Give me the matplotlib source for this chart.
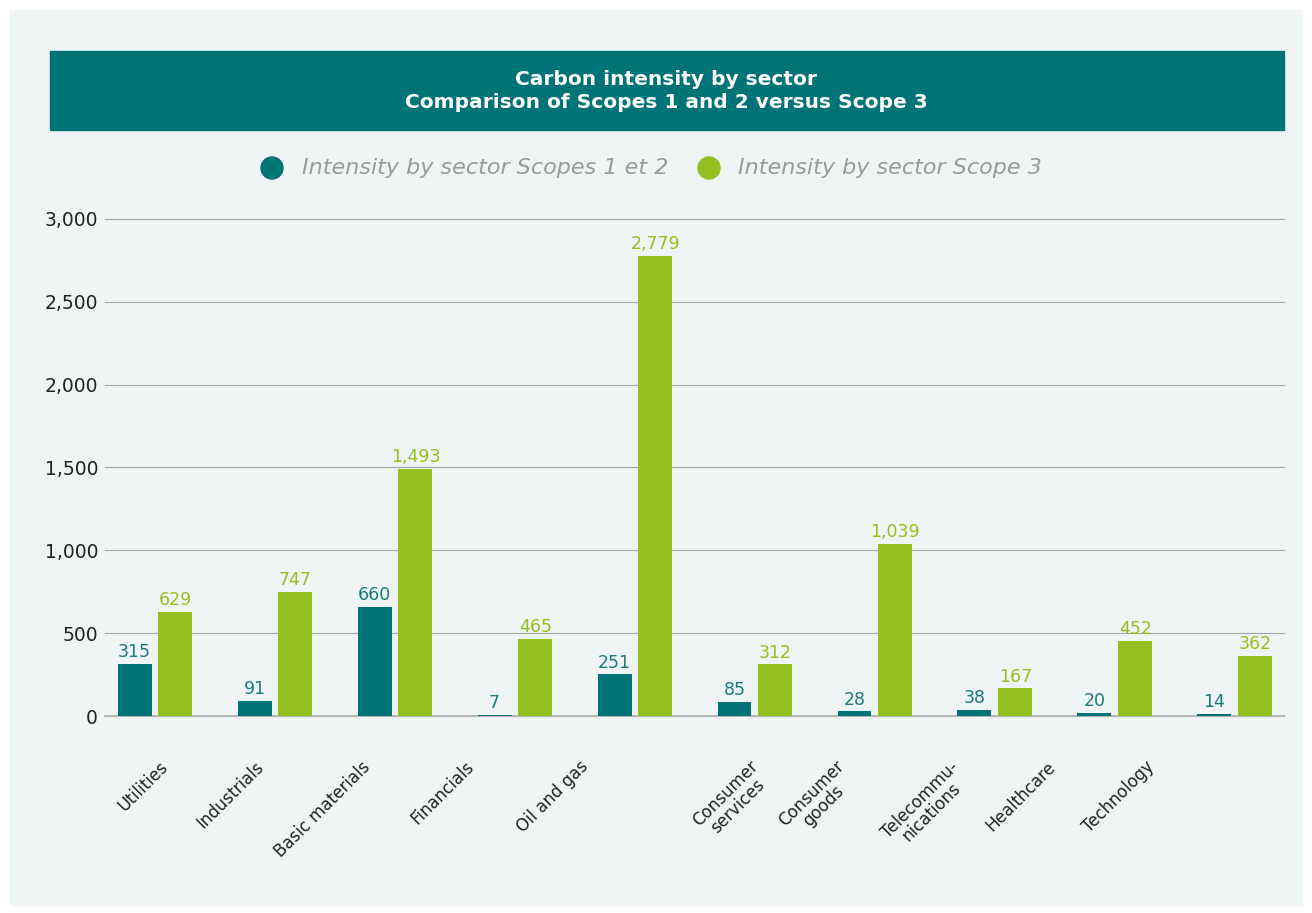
import numpy as np
import matplotlib.pyplot as plt
from matplotlib.patches import Rectangle, Ellipse

sectors = ['Utilities', 'Industrials', 'Basic materials', 'Financials', 'Oil and gas',
           'Consumer\nservices', 'Consumer\ngoods', 'Telecommu-\nnications', 'Healthcare',
           'Technology']
scope12 = [315, 91, 660, 7, 251, 85, 28, 38, 20, 14]
scope3 = [629, 747, 1493, 465, 2779, 312, 1039, 167, 452, 362]
yticks = [0, 500, 1000, 1500, 2000, 2500, 3000]

TEAL = '#007377'
GREEN = '#93c01f'
BG = '#eff5f5'

plt.rcParams['font.family'] = ['DejaVu Sans']

fig = plt.figure(figsize=(13.12, 9.13), dpi=100)
fig.patch.set_facecolor('white')

# light panel and title band
fig.patches.append(Rectangle((10 / 1312, 8 / 913), 1292 / 1312, 895 / 913,
                             transform=fig.transFigure, color=BG, zorder=-5))
fig.patches.append(Rectangle((50 / 1312, 783 / 913), 1234 / 1312, 79 / 913,
                             transform=fig.transFigure, color=TEAL, zorder=-4))
fig.text(666 / 1312, 822 / 913, 'Carbon intensity by sector\nComparison of Scopes 1 and 2 versus Scope 3',
         ha='center', va='center', color='white', fontsize=14.5, fontweight='bold',
         linespacing=1.25)

ax = fig.add_axes([105 / 1312, 197 / 913, 1179 / 1312, 497 / 913])
ax.patch.set_alpha(0)

x = np.arange(len(sectors))
w = 0.283
off = 0.17
ax.bar(x - off, scope12, w, color=TEAL, zorder=3)
ax.bar(x + off, scope3, w, color=GREEN, zorder=3)

for xi, v in zip(x, scope12):
    ax.annotate(f'{v:,}', (xi - off, v), xytext=(0, 2), textcoords='offset points',
                ha='center', va='bottom', color='#1a7a7e', fontsize=12.5, clip_on=False)
for xi, v in zip(x, scope3):
    ax.annotate(f'{v:,}', (xi + off, v), xytext=(0, 2), textcoords='offset points',
                ha='center', va='bottom', color=GREEN, fontsize=12.5, clip_on=False)

ax.set_xlim(-0.417, 9.41)
ax.set_ylim(0, 3000)
ax.set_yticks(yticks)
ax.set_yticklabels([f'{t:,}' for t in yticks], fontsize=13.5, color='#222222')
ax.yaxis.grid(True, color='#a3a3a3', linewidth=0.8, zorder=0)
for gl in ax.get_ygridlines():
    gl.set_clip_on(False)
ax.axhline(0, color='#b5b5b5', linewidth=1.4, zorder=2, clip_on=False)
ax.tick_params(axis='y', length=0, pad=5)
ax.tick_params(axis='x', length=0)
for s in ax.spines.values():
    s.set_visible(False)

# category labels sit a little left of their group, as in the source layout
label_shift = np.array([4, -20, -34, -50, -56, -6, -40, -46, -68, -90]) / 120
ax.set_xticks(x + label_shift)
ax.set_xticklabels(sectors, rotation=45, ha='right', va='top', rotation_mode='anchor',
                   fontsize=12, color='#222222', multialignment='center', linespacing=0.95)
ax.tick_params(axis='x', pad=30)

# legend
fig.patches.append(Ellipse((272 / 1312, 745 / 913), 22 / 1312, 22 / 913,
                           transform=fig.transFigure, color=TEAL))
fig.text(302 / 1312, 745 / 913, 'Intensity by sector Scopes 1 et 2', ha='left', va='center',
         color='#9a9a9a', fontsize=16, style='italic')
fig.patches.append(Ellipse((709 / 1312, 745 / 913), 22 / 1312, 22 / 913,
                           transform=fig.transFigure, color=GREEN))
fig.text(738 / 1312, 745 / 913, 'Intensity by sector Scope 3', ha='left', va='center',
         color='#9a9a9a', fontsize=16, style='italic')

fig.savefig('out.png', dpi=100, facecolor=fig.get_facecolor())
